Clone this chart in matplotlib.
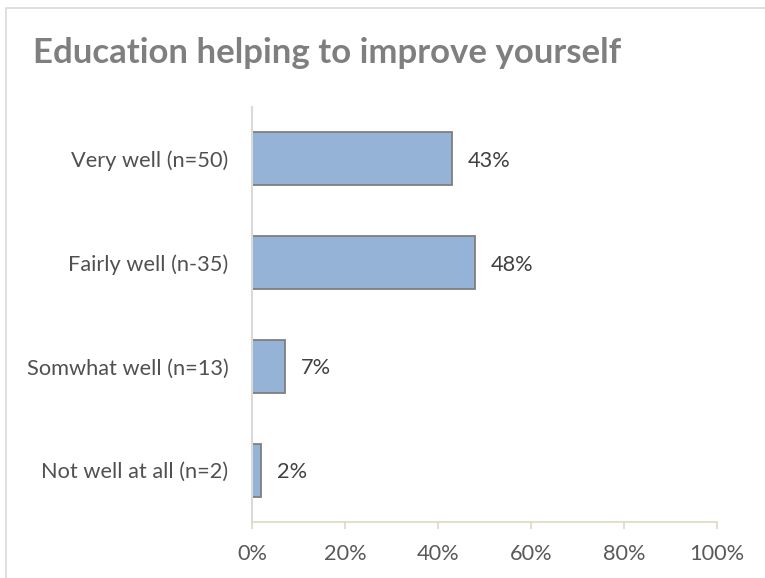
import matplotlib
matplotlib.use("Agg")
import matplotlib.pyplot as plt
from matplotlib.patches import Rectangle

categories = ["Very well (n=50)", "Fairly well (n-35)", "Somwhat well (n=13)", "Not well at all (n=2)"]
values = [43, 48, 7, 2]
value_labels = ["43%", "48%", "7%", "2%"]
xticks = [0, 20, 40, 60, 80, 100]
xtick_labels = ["0%", "20%", "40%", "60%", "80%", "100%"]
title = "Education helping to improve yourself"

W, H = 765, 578
fig = plt.figure(figsize=(W / 100, H / 100), dpi=100)
plt.rcParams['font.family'] = ['Lato', 'DejaVu Sans']

# outer chart border
fig.patches.append(Rectangle((5.5 / W, -0.1), 1.2, 1 - 8.5 / H + 0.1, transform=fig.transFigure,
                             fill=False, edgecolor="#d9d9d9", linewidth=1.2))

left, right, top, bottom = 252, 717, 107, 522
ax = fig.add_axes([left / W, 1 - bottom / H, (right - left) / W, (bottom - top) / H])

fs = 15.7
y = list(range(len(categories)))
ax.barh(y, values, height=0.51, color="#95b3d7", edgecolor="#7f7f7f", linewidth=1.3)
for yi, v, lab in zip(y, values, value_labels):
    ax.annotate(lab, (v, yi), xytext=(11.5, -1.5), textcoords="offset points",
                ha="left", va="center", fontsize=fs, color="#404040")

ax.set_xlim(0, 100)
ax.set_ylim(len(categories) - 0.5, -0.5)
ax.set_yticks(y)
ax.set_yticklabels(categories, fontsize=fs, color="#505050")
ax.set_xticks(xticks)
ax.set_xticklabels(xtick_labels, fontsize=fs, color="#595959")
ax.tick_params(axis="y", length=0, pad=17)
ax.tick_params(axis="x", length=5, width=1.2, color="#ddd9c3", pad=11, direction="out")

for s in ["top", "right"]:
    ax.spines[s].set_visible(False)
ax.spines["left"].set_color("#d9d9d9")
ax.spines["left"].set_linewidth(1.5)
ax.spines["bottom"].set_color("#ddd9c3")
ax.spines["bottom"].set_linewidth(1.2)

fig.text(33 / W, 1 - 63 / H, title, fontsize=25, fontweight="bold", color="#7f7f7f",
         ha="left", va="baseline")

fig.savefig("out.png", dpi=100)
